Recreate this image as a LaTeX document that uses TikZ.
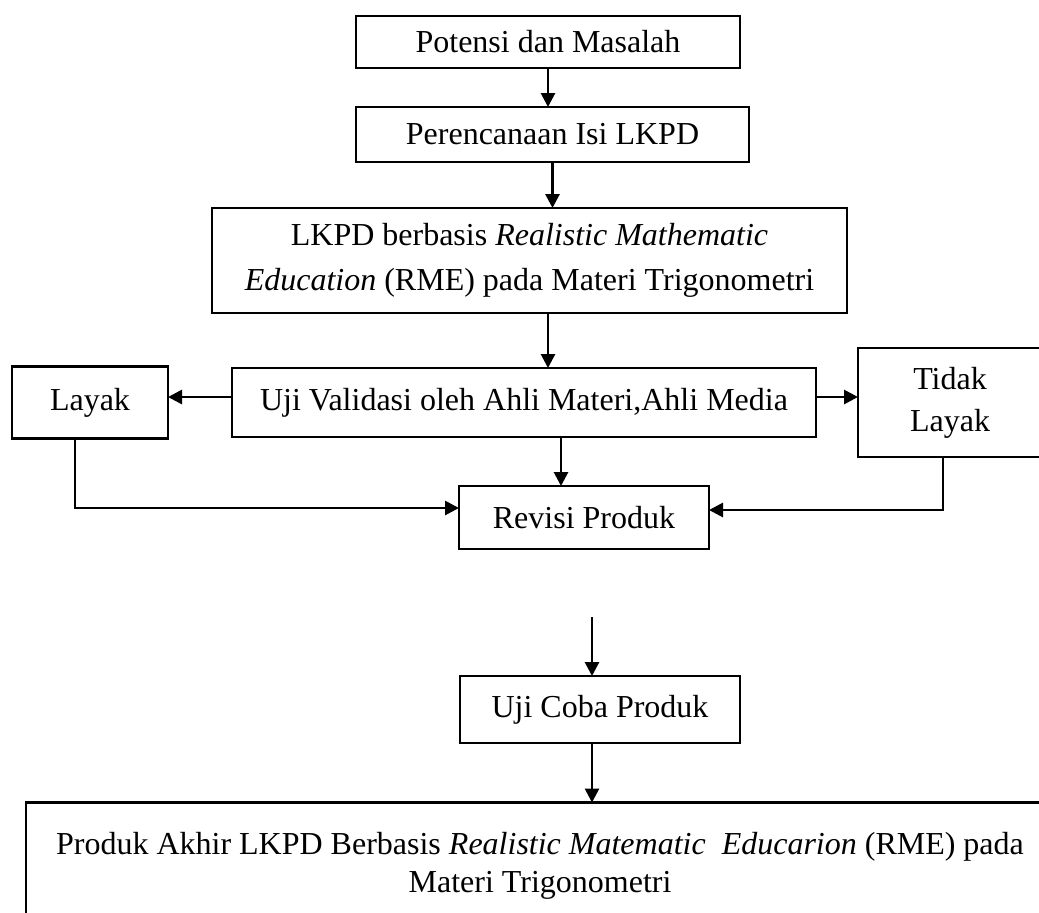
\documentclass[tikz,border=0pt]{standalone}
\usepackage{fontspec}
\setmainfont{Liberation Serif}
\usepackage{tikz}
\usetikzlibrary{
  arrows.meta,
  positioning
}
\tikzset{
  stepbox/.style={draw=black,line width=1.3pt,inner sep=0pt,outer sep=0pt,align=center,font=\fontsize{16}{21}\selectfont},
  flowarrow/.style={-{Triangle[length=7pt,width=7pt]},line width=1.4pt,draw=black}
}

\begin{document}
\begin{tikzpicture}[x=0.5pt,y=-0.5pt]
\clip (0,0) rectangle (1039,912);
\node[stepbox, minimum width=192pt, minimum height=26pt] (pot) at (548,42) {Potensi dan Masalah};
\node[stepbox, minimum width=196.5pt, minimum height=27.5pt] (plan) at (552.5,134.5) {Perencanaan Isi LKPD};
\node[stepbox, minimum width=317.5pt, minimum height=52.5pt, font=\fontsize{16}{22.5}\selectfont] (lkpd) at (529.5,260.5)
  {LKPD berbasis \textit{Realistic Mathematic}\\\textit{Education} (RME) pada Materi Trigonometri};
\node[stepbox, minimum width=292pt, minimum height=34.5pt] (uji) at (524,402.5) {Uji Validasi oleh Ahli Materi,Ahli Media};
\node[stepbox, minimum width=78pt, minimum height=36pt, left=32pt of uji] (layak) {Layak};
\node[stepbox, minimum width=92pt, minimum height=54.5pt, right=21pt of uji] (tidak) {Tidak\\Layak};
\node[stepbox, minimum width=125pt, minimum height=31.5pt] (revisi) at (584,517.5) {Revisi Produk};
\coordinate (free) at (592,617);
\node[stepbox, minimum width=140pt, minimum height=33.5pt] (coba) at (600,709.5) {Uji Coba Produk};
\node[stepbox, minimum width=514pt, minimum height=63.5pt, font=\fontsize{16}{19}\selectfont] (akhir) at (540,866)
  {Produk Akhir LKPD Berbasis \textit{Realistic Matematic\ \ Educarion} (RME) pada\\Materi Trigonometri};

\draw[flowarrow] (pot.south) -- (pot.south |- plan.north);
\draw[flowarrow] (plan.south) -- (plan.south |- lkpd.north);
\draw[flowarrow] (lkpd.south -| pot.south) -- (uji.north -| pot.south);
\draw[flowarrow] ([yshift=2.75pt]uji.west) -- ([yshift=2.75pt]uji.west -| layak.east);
\draw[flowarrow] ([yshift=2.75pt]uji.east) -- ([yshift=2.75pt]uji.east -| tidak.west);
\draw[flowarrow] ([xshift=-11.5pt]revisi.north |- uji.south) -- ([xshift=-11.5pt]revisi.north);
\draw[flowarrow] ([xshift=-7.5pt]layak.south) |- ([yshift=4.75pt]revisi.west);
\draw[flowarrow] ([xshift=-3.5pt]tidak.south) |- ([yshift=3.75pt]revisi.east);
\draw[flowarrow] (free) -- (free |- coba.north);
\draw[flowarrow] (free |- coba.south) -- (free |- akhir.north);
\end{tikzpicture}
\end{document}
